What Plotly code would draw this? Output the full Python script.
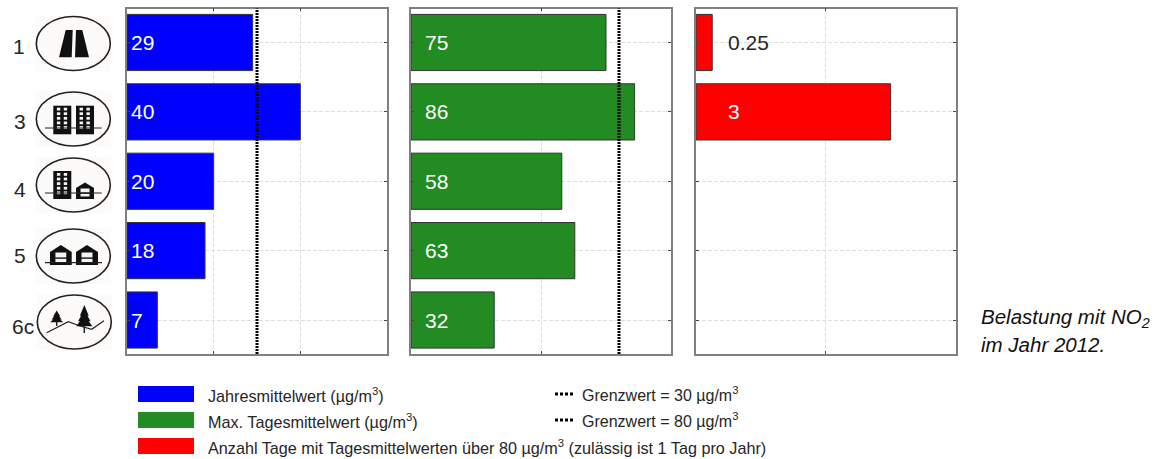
import plotly.graph_objects as go

# NO2 measurements per monitoring site, 2012
sites = ["1", "3", "4", "5", "6c"]
annual_mean = [29, 40, 20, 18, 7]
max_daily_mean = [75, 86, 58, 63, 32]
days_over_limit = [0.25, 3, None, None, None]
annual_limit = 30
daily_limit = 80

W, H = 1160, 459
PANEL_TOP, PANEL_BOTTOM = 8.5, 354
BLUE, GREEN, RED = "#0000ff", "#228b22", "#ff0000"
INK = "#262626"
FONT = "Liberation Sans"


def px(x):
    return x / W


def py(y):
    return 1 - y / H


def poly(points, close=True):
    """SVG path in paper coordinates from a list of pixel points."""
    d = "M" + " L".join(f"{px(x):.5f},{py(y):.5f}" for x, y in points)
    return d + (" Z" if close else "")


shapes = []
annotations = []


def add_poly(points, fill="#111111"):
    shapes.append(dict(type="path", xref="paper", yref="paper", path=poly(points),
                       fillcolor=fill, line=dict(width=0), layer="above"))


def add_line(points, width=1.2, color="#222222"):
    shapes.append(dict(type="path", xref="paper", yref="paper", path=poly(points, close=False),
                       line=dict(width=width, color=color), layer="above"))


def add_rect(x0, y0, x1, y1, fill="#111111", layer="above"):
    shapes.append(dict(type="rect", xref="paper", yref="paper", x0=px(x0), x1=px(x1),
                       y0=py(y0), y1=py(y1), fillcolor=fill, line=dict(width=0), layer=layer))


def add_badge(cx, cy):
    add_rect(cx - 38, cy - 28, cx + 38, cy + 28, fill="#fcfbf9", layer="below")
    shapes.append(dict(type="circle", xref="paper", yref="paper",
                       x0=px(cx - 37), x1=px(cx + 37), y0=py(cy - 27), y1=py(cy + 27),
                       fillcolor="rgba(0,0,0,0)", line=dict(width=1.6, color="#222222"), layer="above"))


def tower(x0, x1, top, bottom):
    add_rect(x0, top, x1, bottom)
    width = x1 - x0
    rows = max(int((bottom - top - 2) // 4.6), 1)
    for r in range(rows):
        y = top + 2 + r * 4.6
        for c in (0.2, 0.58):
            add_rect(x0 + width * c, y, x0 + width * c + 3.4, y + 2.8, fill="#f4f4f4")


def house(x0, x1, peak, eave, bottom):
    mid = (x0 + x1) / 2
    add_poly([(x0, eave + 1), (mid, peak), (x1, eave + 1), (x1, bottom), (x0, bottom)])
    w = x1 - x0
    add_rect(x0 + w * 0.25, eave + 1.5, x1 - w * 0.25, (eave + bottom) / 2 - 0.6, fill="#f4f4f4")
    add_rect(x0 + w * 0.25, (eave + bottom) / 2 + 0.8, x1 - w * 0.25, bottom - 2.5, fill="#f4f4f4")


def tree(cx, top, bottom, half):
    span = bottom - top
    add_line([(cx, top + span * 0.5), (cx, bottom)], width=1.5)
    for t, b, h in [(0, 0.38, 0.55), (0.18, 0.58, 0.78), (0.36, 0.76, 1.0)]:
        add_poly([(cx, top + t * span), (cx + half * h, top + b * span), (cx - half * h, top + b * span)])


# Station-type badges beside the first panel
add_badge(73.3, 43.5)
add_poly([(59, 57.3), (71.7, 57.3), (72.7, 30), (65.7, 30)])
add_poly([(75, 57.3), (89, 57.3), (82.3, 30), (76, 30)])

add_badge(73.3, 119)
tower(53.3, 71.3, 105.7, 134.3)
tower(76, 94, 105.7, 134.3)
add_line([(45, 128), (101.7, 128)])

add_badge(73.3, 185)
tower(53.3, 71.3, 171, 199)
house(76, 94, 182.5, 187, 199)
add_line([(45, 193), (101.7, 193)])

add_badge(73.3, 256)
house(50, 71.7, 245, 251, 265)
house(76, 98, 245, 251, 265)
add_line([(45, 262.7), (102, 262.7)])

add_badge(74.3, 322)
add_line([(46.7, 332.7), (68.3, 321.7), (80, 326), (91.7, 329.3), (104, 320.7)])
tree(56.7, 310.5, 326, 6.5)
tree(84.3, 305, 333, 8)

# One-off text placed on the page: site numbers and the side note
site_positions = [(27, 46), (28, 121.7), (28, 189), (28, 255.7), (35.5, 326.7)]
for label, (x, y) in zip(sites, site_positions):
    annotations.append(dict(text=label, xref="paper", yref="paper", x=px(x), y=py(y), showarrow=False,
                            xanchor="right", yanchor="middle",
                            font=dict(family=FONT, size=21, color=INK)))

for text, y in [("<i>Belastung mit NO<sub>2</sub></i>", 318), ("<i>im Jahr 2012.</i>", 344)]:
    annotations.append(dict(text=text, xref="paper", yref="paper", x=px(979), y=py(y), showarrow=False,
                            xanchor="left", yanchor="middle",
                            font=dict(family=FONT, size=20.5, color="#111111")))

# Legend rows
legend_rows = [
    (BLUE, "Jahresmittelwert (µg/m<sup>3</sup>)", 394),
    (GREEN, "Max. Tagesmittelwert (µg/m<sup>3</sup>)", 420),
    (RED, "Anzahl Tage mit Tagesmittelwerten über 80 µg/m<sup>3</sup> (zulässig ist 1 Tag pro Jahr)", 446),
]
for color, text, y in legend_rows:
    add_rect(138, y - 8, 194, y + 8, fill=color)
    annotations.append(dict(text=text, xref="paper", yref="paper", x=px(206), y=py(y + 0.5), showarrow=False,
                            xanchor="left", yanchor="middle",
                            font=dict(family=FONT, size=16.2, color=INK)))

for limit, y in [(annual_limit, 394), (daily_limit, 420)]:
    shapes.append(dict(type="line", xref="paper", yref="paper", x0=px(555), x1=px(575), y0=py(y), y1=py(y),
                       line=dict(color="#000000", width=3, dash="3px,2px")))
    annotations.append(dict(text=f"Grenzwert = {limit} µg/m<sup>3</sup>", xref="paper", yref="paper",
                            x=px(580), y=py(y), showarrow=False, xanchor="left", yanchor="middle",
                            font=dict(family=FONT, size=16, color=INK)))

fig = go.Figure()

panels = [
    ("x", "y", annual_mean, BLUE, (127, 387), 60, [20, 40], annual_limit, 2),
    ("x2", "y2", max_daily_mean, GREEN, (411, 671), 100, [50], daily_limit, 12),
    ("x3", "y3", days_over_limit, RED, (696, 955.5), 4, [2], None, 30),
]

layout_axes = {}
for xa, ya, values, color, (left, right), xmax, xticks, limit, label_shift in panels:
    fig.add_trace(go.Bar(y=sites, x=values, orientation="h", xaxis=xa, yaxis=ya, width=0.81,
                         marker=dict(color=color, line=dict(color="#333333", width=1)),
                         showlegend=False, hoverinfo="x+y"))
    suffix = xa[1:]
    axis_style = dict(showline=True, linecolor="#808080", linewidth=1.5, mirror="allticks",
                      ticks="inside", ticklen=3, tickcolor="#444444", tickwidth=1,
                      showticklabels=False, showgrid=True, gridcolor="#dedede", gridwidth=1,
                      griddash="4px,2px", zeroline=False, fixedrange=True)
    layout_axes[f"xaxis{suffix}"] = dict(domain=[px(left), px(right)], range=[0, xmax], tickvals=xticks,
                                         anchor=ya, **axis_style)
    layout_axes[f"yaxis{suffix}"] = dict(domain=[py(PANEL_BOTTOM), py(PANEL_TOP)], range=[4.49, -0.49],
                                         type="category", categoryorder="array", categoryarray=sites,
                                         anchor=xa, **axis_style)
    if limit is not None:
        shapes.append(dict(type="line", xref=xa, yref=f"{ya} domain", x0=limit, x1=limit, y0=0, y1=1,
                           line=dict(color="#000000", width=3, dash="2px,1px"), layer="above"))
    # Value labels sit at a fixed offset from the panel's left edge, one per site row
    for row, value in enumerate(values):
        if value is None:
            continue
        annotations.append(dict(text=f"{value:g}", xref=xa, yref=ya, x=0, y=row, xshift=label_shift,
                                showarrow=False, xanchor="left", yanchor="middle",
                                font=dict(family=FONT, size=21,
                                          color="#ffffff" if value >= 1 else INK)))

fig.update_layout(width=W, height=H, margin=dict(l=0, r=0, t=0, b=0), paper_bgcolor="white",
                  plot_bgcolor="white", shapes=shapes, annotations=annotations, bargap=0.19,
                  **layout_axes)

fig.write_html("out.html", config=dict(displayModeBar=False))
